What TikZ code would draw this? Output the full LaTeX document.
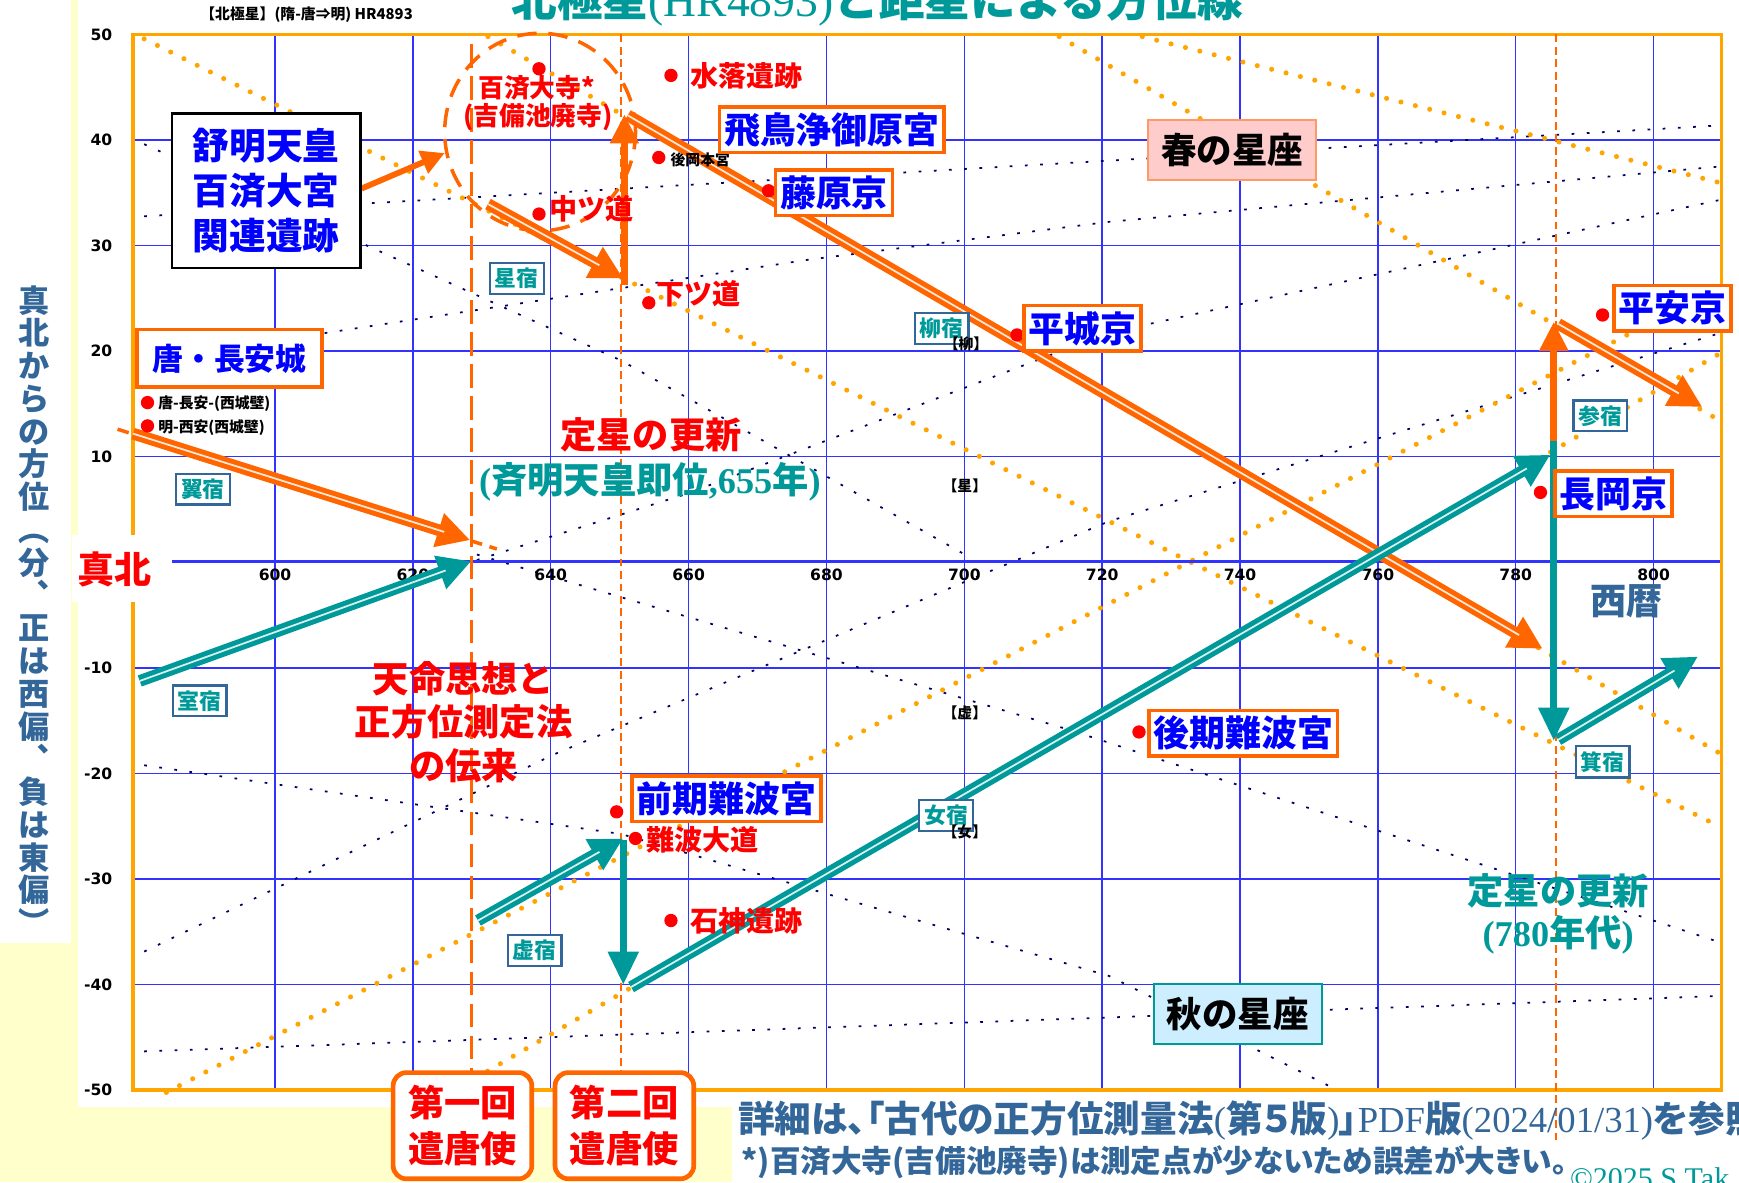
\documentclass[tikz,border=0pt]{standalone}
\usepackage{fontspec}
\setmainfont{Noto Sans CJK JP}
\newfontfamily\tm{Liberation Serif}
\newfontfamily\vd{DejaVu Sans}
\newfontfamily\jpp{Noto Sans CJK JP}[RawFeature=+palt]
\usetikzlibrary{arrows.meta, positioning}
\usepackage{xcolor}
\definecolor{frameor}{HTML}{FFA500}
\definecolor{arror}{HTML}{FF6600}
\definecolor{gridbl}{HTML}{3333FF}
\definecolor{tealc}{HTML}{009999}
\definecolor{steel}{HTML}{336699}
\definecolor{navyd}{HTML}{000066}
\definecolor{paper}{HTML}{FFFFCC}
\definecolor{springbg}{HTML}{FFCCCC}
\definecolor{springln}{HTML}{FF9966}
\definecolor{autumnbg}{HTML}{CCEEFF}
\newcommand{\fz}[2]{\fontsize{#1}{#2}\selectfont}

\begin{document}
\begin{tikzpicture}[x=0.01cm, y=-0.01cm,
    gridline/.style={draw=gridbl, line width=0.35pt},
    ticklab/.style={font=\vd\bfseries\fz{4}{4.4}, inner sep=0pt},
    odots/.style={draw=frameor, line width=1.3pt, line cap=round, dash pattern=on 0pt off 3.8pt},
    ndots/.style={draw=navyd, line width=0.45pt, dash pattern=on 0.7pt off 3.2pt},
    sitedot/.style={circle, fill=red, inner sep=0pt, minimum size=0.12cm},
    sitelab/.style={text=red, font=\bfseries\fz{7.2}{8}, anchor=west, inner sep=0pt},
    place/.style={draw=arror, line width=0.9pt, fill=white, text=blue, font=\bfseries\fz{9.2}{10}, inner sep=1.2pt, minimum height=0.41cm},
    shuku/.style={draw=steel, line width=0.55pt, fill=white, text=tealc, font=\bfseries\fz{5.6}{6}, inner sep=1.3pt},
    smallab/.style={font=\bfseries\fz{3.8}{4}, inner sep=0pt},
    envoy/.style={draw=arror, line width=1.2pt, rounded corners=0.12cm, fill=white, text=red, align=center, font=\bfseries\fz{9.3}{11.6}, minimum width=1.25cm, minimum height=0.94cm},
    dblor/.style={draw=arror, line width=3pt, -{Triangle[length=8.5pt,width=8.5pt]}, postaction={draw=white!85!arror, line width=0.45pt, shorten >=7pt, -}},
    dbltl/.style={draw=tealc, line width=3pt, -{Triangle[length=8.5pt,width=8.5pt]}, postaction={draw=white!85!tealc, line width=0.45pt, shorten >=7pt, -}},
    solor/.style={draw=arror, line width=1.9pt, -{Triangle[length=7.5pt,width=7pt]}},
    soltl/.style={draw=tealc, line width=1.9pt, -{Triangle[length=8.5pt,width=7.5pt]}}
  ]
  \useasboundingbox (0,0) rectangle (1568,1066);

  % Backgrounds
  \fill[paper] (0,0) rectangle (1568,1066);
  \fill[white] (70,0) rectangle (1568,998);
  \fill[white] (0,0) rectangle (64,850);
  \fill[white] (660,998) rectangle (1568,1066);

  % Grid
  \foreach \i in {0,...,10}
    \draw[gridline] (248+124.3*\i,31) -- (248+124.3*\i,983);
  \foreach \j in {1,2,3,4,6,7,8,9}
    \draw[gridline] (120,31+95.2*\j) -- (1552,31+95.2*\j);

  % Star tracks (navy)
  \draw[ndots] (130,195) -- (1552,113);
  \draw[ndots] (130,325) -- (730,234) -- (1000,200) -- (1552,150);
  \draw[ndots] (130,948) -- (1552,898);
  \draw[ndots] (130,690) -- (560,752) -- (1000,880) -- (1200,980);
  \draw[ndots] (130,858) -- (500,680) -- (1000,470) -- (1552,300);
  \draw[ndots] (430,500) -- (964,658) -- (1552,850);
  \draw[ndots] (430,505) -- (620,445) -- (1000,300) -- (1552,180);
  \draw[ndots] (130,130) -- (330,221) -- (560,325) -- (870,500);

  % Star tracks (orange)
  \draw[odots] (130,35) -- (1552,746);
  \draw[odots] (440,33) -- (1552,680);
  \draw[odots] (955,33) -- (1552,380);
  \draw[odots] (1030,33) -- (1552,165);
  \draw[odots] (150,985) -- (1552,258);
  \draw[odots] (405,986) -- (1552,318);

  % Frame and zero line
  \draw[draw=gridbl, line width=0.75pt] (155,506) -- (1552,506);
  \draw[draw=frameor, line width=0.9pt] (120,31) rectangle (1552,983);
  \fill[white] (65,482) rectangle (155,543);
  \node[text=red, font=\bfseries\fz{9.5}{10}] (shinpoku) at (103,513) {真北};

  % Ticks
  \foreach \v/\j in {50/0,40/1,30/2,20/3,10/4,-10/6,-20/7,-30/8,-40/9,-50/10}
    \node[ticklab, anchor=east] (yt\j) at (102,31+95.2*\j) {\v};
  \foreach \yr [count=\i from 0] in {600,620,...,800}
    \node[ticklab] (xt\yr) at (248+124.3*\i,518) {\yr};

  % Titles and axis label
  \node[anchor=base, text=tealc, font=\bfseries\fz{11.7}{12}, inner sep=0pt] (title) at (791,15) {北極星{\tm\mdseries (HR4893)}と距星による方位線};
  \node[smallab, anchor=west] (hdr) at (180,13) {【北極星】(隋-唐⇒明) HR4893};
  \node[text=steel, font=\bfseries\fz{8}{8.4}, align=center, inner sep=0pt] (ylab) at (31,550) {真\\北\\か\\ら\\の\\方\\位\\︵\\分\\︑\\正\\は\\西\\偏\\︑\\負\\は\\東\\偏\\︶};
  \node[text=steel, font=\bfseries\fz{9.3}{10}] (seireki) at (1467,542) {西暦};

  % Dashed markers
  \draw[draw=arror, line width=0.85pt, dash pattern=on 6pt off 2.2pt] (425,40) -- (425,968);
  \draw[draw=arror, line width=0.5pt, dash pattern=on 2pt off 1.2pt] (560,31) -- (560,968);
  \draw[draw=arror, line width=0.5pt, dash pattern=on 2pt off 1.2pt] (1403,31) -- (1403,1032);
  \draw[draw=arror, line width=0.9pt, dash pattern=on 5pt off 3pt] (487,119) ellipse [x radius=0.86cm, y radius=0.89cm];
  \draw[draw=arror, line width=0.9pt, dash pattern=on 3pt off 2pt] (106,387) -- (448,495);

  % Arrow ends
  \coordinate (a1s) at (120,391);   \coordinate (a1e) at (424,487);
  \coordinate (a2s) at (326,170);   \coordinate (a2e) at (401,138);
  \coordinate (a3s) at (440,184);   \coordinate (a3e) at (562,251);
  \coordinate (a4s) at (563,257);   \coordinate (a4e) at (563,103);
  \coordinate (a5s) at (566,104);   \coordinate (a5e) at (1391,585);
  \coordinate (a6s) at (1401,400);  \coordinate (a6e) at (1401,290);
  \coordinate (a8s) at (1405,292);  \coordinate (a8e) at (1535,367);
  \coordinate (t1s) at (126,614);   \coordinate (t1e) at (425,506);
  \coordinate (t2s) at (431,830);   \coordinate (t2e) at (562,756);
  \coordinate (t3s) at (562,757);   \coordinate (t3e) at (562,888);
  \coordinate (t4s) at (569,890);   \coordinate (t4e) at (1398,410);
  \coordinate (t5s) at (1401,398);  \coordinate (t5e) at (1401,668);
  \coordinate (t6s) at (1405,667);  \coordinate (t6e) at (1531,592);

  % Arrows
  \draw[dblor] (a1s) -- (a1e);
  \draw[draw=arror, line width=1.5pt, -{Triangle[length=6pt,width=6pt]}] (a2s) -- (a2e);
  \draw[dblor] (a3s) -- (a3e);
  \draw[solor] (a4s) -- (a4e);
  \draw[dblor] (a5s) -- (a5e);
  \draw[solor] (a6s) -- (a6e);
  \draw[dblor] (a8s) -- (a8e);
  \draw[dbltl] (t1s) -- (t1e);
  \draw[dbltl] (t2s) -- (t2e);
  \draw[soltl] (t3s) -- (t3e);
  \draw[dbltl] (t4s) -- (t4e);
  \draw[soltl] (t5s) -- (t5e);
  \draw[dbltl] (t6s) -- (t6e);

  % Sites
  \node[sitedot] (kudara) at (486,62) {};
  \node[text=red, font=\bfseries\fz{6.6}{8}, inner sep=0pt] (kudaralab) at (484,79) {百済大寺*};
  \node[text=red, font=\bfseries\fz{6.6}{8}, inner sep=0pt] (kibilab) at (485,106) {(吉備池廃寺)};
  \node[sitedot] (mizu) at (605,68) {};
  \node[sitelab] (mizulab) at (622,68) {水落遺跡};
  \node[sitedot] (okamoto) at (594,142) {};
  \node[smallab, anchor=west] (okamotolab) at (604,144) {後岡本宮};
  \node[sitedot] (fuji) at (693,172) {};
  \node[sitedot] (naka) at (486,193) {};
  \node[sitelab] (nakalab) at (495,188) {中ツ道};
  \node[sitedot] (shimo) at (585,273) {};
  \node[sitelab] (shimolab) at (591,265) {下ツ道};
  \node[sitedot] (heijo) at (917,302) {};
  \node[sitedot] (heian) at (1445,284) {};
  \node[sitedot] (nagaoka) at (1389,444) {};
  \node[sitedot] (kouki) at (1027,660) {};
  \node[sitedot] (zenki) at (556,732) {};
  \node[sitedot] (daido) at (573,756) {};
  \node[sitelab] (daidolab) at (582,757) {難波大道};
  \node[sitedot] (isogami) at (605,830) {};
  \node[sitelab] (isogamilab) at (622,830) {石神遺跡};
  \node[sitedot] (chouan) at (133,363) {};
  \node[smallab, anchor=west] (chouanlab) at (142,364) {唐-長安-(西城壁)};
  \node[sitedot] (seian) at (133,384) {};
  \node[smallab, anchor=west] (seianlab) at (142,386) {明-西安(西城壁)};

  % Lunar mansions
  \node[shuku] (sei) at (466,251) {星宿};
  \node[shuku] (ryu) at (849,296) {柳宿};
  \node[shuku] (yoku) at (183,441) {翼宿};
  \node[shuku] (shitsu) at (180,632) {室宿};
  \node[shuku] (shin) at (1443,375) {参宿};
  \node[shuku] (ki) at (1445,687) {箕宿};
  \node[shuku] (jo) at (853,735) {女宿};
  \node[shuku] (kyo) at (482,857) {虚宿};
  \node[smallab] (mkryu) at (871,310) {【柳】};
  \node[smallab] (mksei) at (870,438) {【星】};
  \node[smallab] (mkkyo) at (870,643) {【虚】};
  \node[smallab] (mkjo) at (870,750) {【女】};

  % Capitals
  \node[place] (asuka) at (750,117) {飛鳥浄御原宮};
  \node[place] (fujiwara) at (752,174) {藤原京};
  \node[place] (heijokyo) at (976,296) {平城京};
  \node[place] (heiankyo) at (1508,278) {平安京};
  \node[place] (nagaokakyo) at (1455,445) {長岡京};
  \node[place] (koukinaniwa) at (1121,661) {後期難波宮};
  \node[place] (zenkinaniwa) at (655,720) {前期難波宮};
  \node[draw=arror, line width=0.9pt, fill=white, text=blue, font=\bfseries\fz{7.9}{8}, minimum width=1.67cm, minimum height=0.52cm] (tang) at (207,323) {唐・長安城};
  \node[draw=black, line width=0.6pt, fill=white, text=blue, align=center, font=\bfseries\fz{9.4}{11.6}, minimum width=1.7cm, minimum height=1.39cm] (jomei) at (240,172) {舒明天皇\\百済大宮\\関連遺跡};

  % Seasons
  \node[draw=springln, line width=0.5pt, fill=springbg, font=\bfseries\fz{9.1}{10}, minimum width=1.43cm, minimum height=0.44cm] (spring) at (1111,135) {春の星座};
  \node[draw=tealc, line width=0.5pt, fill=autumnbg, font=\bfseries\fz{9.1}{10}, minimum width=1.43cm, minimum height=0.43cm] (autumn) at (1116,914) {秋の星座};

  % Notes
  \node[text=red, font=\bfseries\fz{9.3}{10}] (teisei) at (587,392) {定星の更新};
  \node[text=tealc, font=\bfseries\fz{9.3}{10}] (saimei) at (586,434) {{\tm(}斉明天皇即位{\tm,655}年{\tm)}};
  \node[text=red, align=center, font=\bfseries\fz{9.3}{11.1}] (tenmei) at (418,651) {天命思想と\\正方位測定法\\の伝来};
  \node[text=tealc, font=\bfseries\fz{9.3}{10}] (teisei2) at (1405,803) {定星の更新};
  \node[text=tealc, font=\bfseries\fz{9.3}{10}] (nendai) at (1405,843) {{\tm(780}年代{\tm)}};

  % Envoys
  \node[envoy] (kentou1) at (417,1015) {第一回\\遣唐使};
  \node[envoy] (kentou2) at (563,1015) {第二回\\遣唐使};

  % Footer
  \node[anchor=west, text=steel, font=\jpp\bfseries\fz{9.4}{10}, inner sep=0pt] (detail) at (665,1010) {詳細は、「古代の正方位測量法{\tm\mdseries(}第５版{\tm\mdseries)}」{\tm\mdseries PDF}版{\tm\mdseries(2024/01/31)}を参照};
  \node[anchor=west, text=steel, font=\jpp\bfseries\fz{7.85}{9}, inner sep=0pt] (note) at (668,1048) {*)百済大寺(吉備池廃寺)は測定点が少ないため誤差が大きい。};
  \node[anchor=base west, text=tealc, font=\tm\fz{7.7}{8}, inner sep=0pt] (copy) at (1415,1072) {©2025 S.Tak};
\end{tikzpicture}
\end{document}
